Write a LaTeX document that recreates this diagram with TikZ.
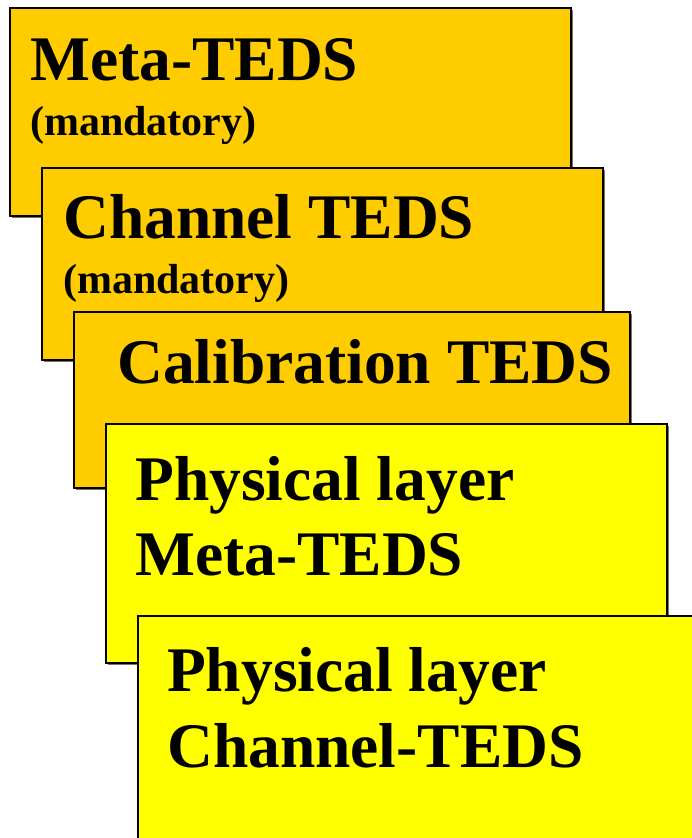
\documentclass[tikz,border=0pt]{standalone}
\usepackage{fontspec}
\setmainfont{Liberation Serif}
\usetikzlibrary{shadows}
\definecolor{tedsorange}{HTML}{FFCC00}
\definecolor{tedsyellow}{HTML}{FFFF00}
\tikzset{
  card/.style={draw=black, line width=1.4pt, anchor=north west, inner sep=0pt, outer sep=0pt,
    drop shadow={shadow xshift=1.6pt, shadow yshift=-1.6pt, fill=black!55, opacity=1}},
  orangecard/.style={card, fill=tedsorange},
  yellowcard/.style={card, fill=tedsyellow},
  bigtxt/.style={anchor=base west, inner sep=0pt, font=\bfseries\fontsize{63.5}{76}\selectfont},
  smalltxt/.style={anchor=base west, inner sep=0pt, font=\bfseries\fontsize{42}{50}\selectfont},
}
\begin{document}
\begin{tikzpicture}[x=1pt, y=-1pt]
\useasboundingbox (0,0) rectangle (692,838);
\clip (0,0) rectangle (692,838);
\fill[white] (0,0) rectangle (692,838);
\node[orangecard, minimum width=561pt, minimum height=208pt] (b1) at (10,8) {};
\node[bigtxt] (t1) at (30,80) {Meta-TEDS};
\node[smalltxt] (m1) at (30,135) {(mandatory)};
\node[orangecard, minimum width=561pt, minimum height=192pt] (b2) at (42,168) {};
\node[bigtxt] (t2) at (63,238) {Channel TEDS};
\node[smalltxt] (m2) at (63,293) {(mandatory)};
\node[orangecard, minimum width=556pt, minimum height=176pt] (b3) at (74,312) {};
\node[bigtxt] (t3) at (117,383) {Calibration TEDS};
\node[yellowcard, minimum width=561pt, minimum height=239pt] (b4) at (106,424) {};
\node[bigtxt] (t4a) at (135,500) {Physical layer};
\node[bigtxt] (t4b) at (135,575) {Meta-TEDS};
\node[yellowcard, minimum width=580pt, minimum height=240pt] (b5) at (138,616) {};
\node[bigtxt] (t5a) at (167,691) {Physical layer};
\node[bigtxt] (t5b) at (167,767) {Channel-TEDS};
\end{tikzpicture}
\end{document}
